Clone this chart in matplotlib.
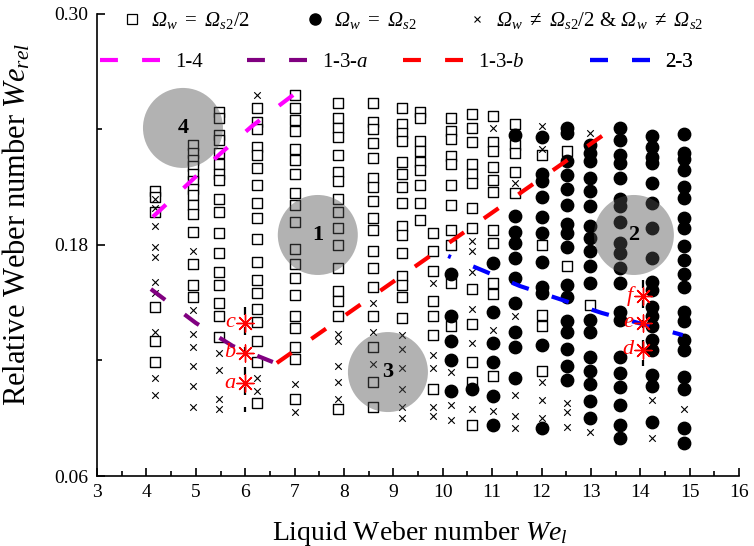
import matplotlib
matplotlib.use('Agg')
import matplotlib.pyplot as plt
from matplotlib.lines import Line2D
from matplotlib.ticker import FormatStrFormatter, MultipleLocator

plt.rcParams['font.family'] = 'serif'
plt.rcParams['font.serif'] = ['Liberation Serif', 'DejaVu Serif']
# Times-like maths; sf slot is used for an italic capital Omega
plt.rcParams['mathtext.fontset'] = 'custom'
plt.rcParams['mathtext.rm'] = 'Liberation Serif'
plt.rcParams['mathtext.it'] = 'Liberation Serif:italic'
plt.rcParams['mathtext.bf'] = 'Liberation Serif:bold'
plt.rcParams['mathtext.sf'] = 'Liberation Serif:italic'

# ---- data: We_rel values per We_l column ----
# squares: Omega_w = Omega_s2/2
squares = {
    4.17: [0.208, 0.205, 0.197, 0.148, 0.130, 0.119],
    4.94: [0.232, 0.228, 0.224, 0.221, 0.217, 0.213, 0.209, 0.206, 0.201, 0.196, 0.187, 0.170, 0.159, 0.153],
    5.47: [0.249, 0.246, 0.237, 0.2345, 0.228, 0.222, 0.217, 0.214, 0.204, 0.197, 0.186, 0.176, 0.166, 0.159, 0.150, 0.143, 0.132],
    6.24: [0.251, 0.244, 0.240, 0.231, 0.227, 0.220, 0.211, 0.202, 0.194, 0.183, 0.171, 0.162, 0.155, 0.147, 0.140, 0.130, 0.119, 0.098],
    7.01: [0.258, 0.251, 0.245, 0.239, 0.230, 0.224, 0.217, 0.207, 0.201, 0.192, 0.178, 0.170, 0.163, 0.154, 0.143, 0.137, 0.127, 0.121, 0.100],
    7.88: [0.254, 0.246, 0.241, 0.236, 0.227, 0.218, 0.213, 0.204, 0.197, 0.189, 0.180, 0.168, 0.156, 0.151, 0.143, 0.095],
    8.59: [0.254, 0.244, 0.240, 0.233, 0.225, 0.215, 0.210, 0.203, 0.194, 0.188, 0.177, 0.168, 0.158, 0.143, 0.127, 0.109, 0.096],
    9.17: [0.251, 0.243, 0.238, 0.234, 0.223, 0.217, 0.210, 0.202, 0.190, 0.185, 0.176, 0.164, 0.159, 0.153, 0.142],
    9.54: [0.249, 0.246, 0.234, 0.229, 0.223, 0.219, 0.211, 0.202, 0.193],
    9.80: [0.186, 0.177, 0.1665, 0.151, 0.143, 0.133, 0.105],
    10.17: [0.246, 0.239, 0.235, 0.226, 0.222, 0.211, 0.201, 0.188, 0.180, 0.160, 0.138],
    10.59: [0.248, 0.241, 0.2335, 0.222, 0.217, 0.212, 0.199, 0.189, 0.157, 0.139, 0.119, 0.109, 0.0865],
    11.02: [0.247, 0.2335, 0.229, 0.2205, 0.214, 0.2075, 0.188, 0.181, 0.160, 0.1545, 0.112],
    11.46: [0.243, 0.232, 0.228, 0.218, 0.207],
    12.01: [0.227, 0.180, 0.1435, 0.138, 0.1145],
    12.51: [0.229, 0.169],
    12.98: [0.149],
}

# filled circles: Omega_w = Omega_s2
circles = {
    10.17: [0.165, 0.143, 0.130, 0.120, 0.104],
    10.59: [0.105],
    11.02: [0.1705, 0.145, 0.129, 0.119, 0.1015, 0.0865],
    11.46: [0.237, 0.195, 0.187, 0.181, 0.173, 0.163, 0.150, 0.135, 0.127, 0.111],
    12.01: [0.236, 0.217, 0.213, 0.205, 0.1945, 0.186, 0.171, 0.158, 0.155, 0.128, 0.085],
    12.51: [0.241, 0.238, 0.2236, 0.2164, 0.209, 0.201, 0.191, 0.186, 0.179, 0.159, 0.153, 0.1405, 0.135, 0.126, 0.117, 0.110],
    12.98: [0.232, 0.228, 0.2236, 0.215, 0.208, 0.200, 0.190, 0.1836, 0.177, 0.169, 0.160, 0.141, 0.135, 0.122, 0.1145, 0.108, 0.099, 0.090],
    13.59: [0.241, 0.2345, 0.227, 0.2226, 0.215, 0.204, 0.200, 0.192, 0.181, 0.176, 0.168, 0.160, 0.145, 0.141, 0.122, 0.1135, 0.106, 0.097, 0.0865, 0.080],
    14.23: [0.2366, 0.231, 0.2257, 0.2226, 0.212, 0.202, 0.189, 0.173, 0.161, 0.1566, 0.148, 0.143, 0.138, 0.1306, 0.1255, 0.1125, 0.107, 0.088],
    14.88: [0.2377, 0.228, 0.2247, 0.219, 0.210, 0.2044, 0.194, 0.189, 0.1795, 0.172, 0.165, 0.158, 0.145, 0.1405, 0.1306, 0.1255, 0.1114, 0.105, 0.085, 0.077],
}

# crosses: neither
crosses = {
    4.17: [0.204, 0.199, 0.190, 0.179, 0.174, 0.161, 0.155, 0.135, 0.111, 0.102],
    4.94: [0.177, 0.146, 0.134, 0.127, 0.117, 0.107, 0.096],
    5.47: [0.124, 0.115, 0.100, 0.095],
    6.24: [0.258, 0.111, 0.104],
    7.01: [0.108, 0.093],
    7.88: [0.134, 0.130, 0.117, 0.109, 0.100],
    8.59: [0.150, 0.135, 0.118],
    9.17: [0.133, 0.126, 0.116, 0.105, 0.096, 0.090],
    9.80: [0.160, 0.123, 0.116, 0.096, 0.091],
    10.17: [0.114, 0.097, 0.089],
    10.59: [0.182, 0.177, 0.166, 0.147, 0.129, 0.095],
    11.02: [0.241, 0.136, 0.094],
    11.46: [0.212, 0.143, 0.102, 0.091, 0.085],
    12.01: [0.242, 0.230, 0.109, 0.0995, 0.090],
    12.51: [0.098, 0.093, 0.0855],
    12.98: [0.238, 0.083],
    14.23: [0.0995, 0.080],
    14.88: [0.095],
}

# transition boundaries
line_14_x = [4.13, 5.49, 6.14, 6.97]
line_14_y = [0.1946, 0.2273, 0.2418, 0.2579]
line_13a_x = [4.09, 5.0, 5.75, 6.56]
line_13a_y = [0.1571, 0.1395, 0.1275, 0.1192]
line_13b_x = [6.64, 13.34]
line_13b_y = [0.1187, 0.2387]
line_23_x = [10.11, 11.56, 13.22, 14.86]
line_23_y = [0.1743, 0.1587, 0.1447, 0.1332]

# marked cases
case_labels = ['a', 'b', 'c', 'd', 'e', 'f']
case_x = [6.0, 6.0, 6.0, 14.05, 14.05, 14.05]
case_y = [0.1083, 0.1239, 0.1395, 0.1255, 0.1395, 0.1535]
guide_x = [6.0, 14.05]
guide_y = [(0.148, 0.093), (0.162, 0.117)]

# regime zones
zone_labels = ['1', '2', '3', '4']
zone_x = [7.47, 13.87, 8.89, 4.74]
zone_y = [0.1852, 0.1852, 0.114, 0.2408]


def flatten(d):
    xs, ys = [], []
    for k, v in d.items():
        xs += [k] * len(v)
        ys += v
    return xs, ys


fig = plt.figure(figsize=(7.54, 5.46), dpi=100)
ax = fig.add_axes([0.1287, 0.1282, 0.8515, 0.8462])

sx, sy = flatten(squares)
cx, cy = flatten(circles)
xx, xy = flatten(crosses)
ax.scatter(sx, sy, marker='s', s=62, facecolors='white', edgecolors='black', linewidths=1.0, zorder=2)
ax.scatter(cx, cy, marker='o', s=80, color='black', zorder=2)
ax.scatter(xx, xy, marker='x', s=22, color='black', linewidths=0.8, zorder=2)

# grey zones drawn on top of the points
ax.scatter(zone_x, zone_y, s=3318, color='#505050', alpha=0.44, edgecolors='none', zorder=3)
for lab, zx, zy in zip(zone_labels, zone_x, zone_y):
    ax.text(zx, zy, lab, fontsize=16, fontweight='bold', ha='center', va='center', zorder=7)

dash = (4.3, 5.8)
ax.plot(line_14_x, line_14_y, color='#ff00ff', lw=3, dashes=dash, zorder=4)
ax.plot(line_13a_x, line_13a_y, color='#800080', lw=3, dashes=dash, zorder=4)
ax.plot(line_13b_x, line_13b_y, color='red', lw=3, dashes=dash, zorder=4)
ax.plot(line_23_x, line_23_y, color='blue', lw=3, ls=(3.6, dash), zorder=4)

for gx, (g0, g1) in zip(guide_x, guide_y):
    ax.plot([gx, gx], [g0, g1], color='black', lw=1.6, dashes=(3.6, 5.4), zorder=5)

ax.scatter(case_x, case_y, marker=(8, 2, 0), s=150, color='red', linewidths=1.0, zorder=6)
for lab, px, py in zip(case_labels, case_x, case_y):
    ax.annotate(lab, (px, py), xytext=(-7, 0), textcoords='offset points', ha='right', va='center',
                color='red', fontsize=16, fontstyle='italic', zorder=7)

ax.set_xlim(3, 16)
ax.set_ylim(0.06, 0.30)
ax.xaxis.set_major_locator(MultipleLocator(1))
ax.xaxis.set_minor_locator(MultipleLocator(0.5))
ax.set_yticks([0.06, 0.18, 0.30])
ax.set_yticks([0.12, 0.24], minor=True)
ax.yaxis.set_major_formatter(FormatStrFormatter('%.2f'))
ax.tick_params(direction='in', labelsize=14, length=6, width=1.2, pad=6)
ax.tick_params(which='minor', direction='in', length=3.5, width=1.2)
ax.spines['top'].set_visible(False)
ax.spines['right'].set_visible(False)
ax.spines['left'].set_linewidth(1.2)
ax.spines['bottom'].set_linewidth(1.2)
ax.set_xlabel(r'Liquid Weber number $We_l$', fontsize=20)
ax.set_ylabel(r'Relative Weber number $We_{rel}$', fontsize=22)
ax.xaxis.set_label_coords(0.503, -0.092)
ax.yaxis.set_label_coords(-0.1, 0.545)


def add_key(handle, label, x0, y0, hl):
    leg = ax.legend([handle], [label], loc='center left', bbox_to_anchor=(x0, y0), frameon=False,
                    handlelength=hl, handletextpad=0.4, borderpad=0, borderaxespad=0, fontsize=15)
    ax.add_artist(leg)


om = r'\mathsf{\Omega}'
sq_h = Line2D([], [], ls='none', marker='s', markersize=7, mfc='white', mec='black', mew=0.9)
ci_h = Line2D([], [], ls='none', marker='o', markersize=8, color='black')
cr_h = Line2D([], [], ls='none', marker='x', markersize=4.5, color='black', mew=0.8)
add_key(sq_h, rf'${om}_w\ =\ {om}_{{s2}}/2$', 0.039, 0.985, 1.0)
add_key(ci_h, rf'${om}_w\ =\ {om}_{{s2}}$', 0.324, 0.985, 1.0)
add_key(cr_h, rf'${om}_w\ \neq\ {om}_{{s2}}/2$ & ${om}_w\ \neq\ {om}_{{s2}}$', 0.576, 0.985, 1.0)

for col, lab, x0 in [('#ff00ff', '1-4', 0.005), ('#800080', r'1-3-$a$', 0.234),
                     ('red', r'1-3-$b$', 0.477), ('blue', '2-3', 0.768)]:
    h = Line2D([], [], color=col, lw=3, dashes=dash)
    add_key(h, lab, x0, 0.896, 3.2)

fig.savefig('out.png', dpi=100)
